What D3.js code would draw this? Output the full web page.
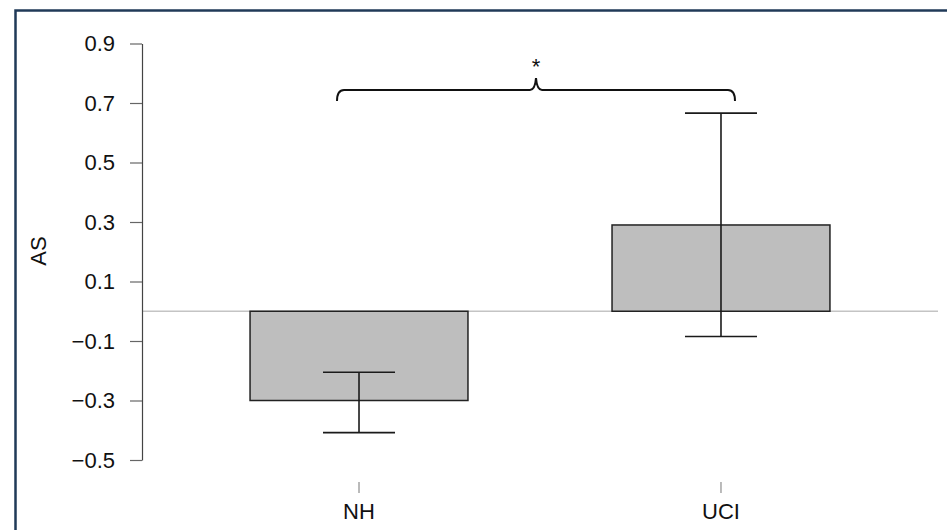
<!DOCTYPE html>
<html>
<head>
<meta charset="utf-8">
<script src="https://cdn.jsdelivr.net/npm/d3@7"></script>
<style>
  body { margin: 0; background: #fff; overflow: hidden; }
  svg { display: block; font-family: "Liberation Sans", Arial, sans-serif; }
</style>
</head>
<body>
<script>
// chart values
var groups = ["NH", "UCI"];
var means = [-0.30, 0.29];
var errLow = [-0.408, -0.085];
var errHigh = [-0.205, 0.666];
var yTicks = [-0.5, -0.3, -0.1, 0.1, 0.3, 0.5, 0.7, 0.9];
var sigLabel = "*";

var width = 947,
    height = 530;

var svg = d3.select("body")
    .append("svg")
    .attr("width", width)
    .attr("height", height);

// frame round the figure: only the left and top edges show
svg.append("path")
    .attr("d", "M15.5," + height + "V10.5H" + width)
    .attr("fill", "none")
    .attr("stroke", "#203a58")
    .attr("stroke-width", 2.5);

var y = d3.scaleLinear()
    .domain([-0.5, 0.9])
    .range([460, 43.5]);

var x = d3.scaleBand()
    .domain(groups)
    .range([142, 938])
    .paddingInner(0.398)
    .paddingOuter(0.2985);

// zero line
svg.append("line")
    .attr("x1", 142)
    .attr("x2", 938)
    .attr("y1", y(0))
    .attr("y2", y(0))
    .attr("stroke", "#c4c4c4")
    .attr("stroke-width", 1.5);

// bars
svg.selectAll(".bar")
    .data(groups)
    .enter()
    .append("rect")
    .attr("class", "bar")
    .attr("x", function(d){ return x(d); })
    .attr("width", x.bandwidth())
    .attr("y", function(d, i){ return y(Math.max(0, means[i])); })
    .attr("height", function(d, i){ return Math.abs(y(means[i]) - y(0)); })
    .attr("fill", "#bebebe")
    .attr("stroke", "#222")
    .attr("stroke-width", 1.5);

// error bars
var capHalf = 36;
var err = svg.selectAll(".err")
    .data(groups)
    .enter()
    .append("g")
    .attr("class", "err")
    .attr("stroke", "#1a1a1a")
    .attr("stroke-width", 1.6);

err.append("line")
    .attr("x1", function(d){ return x(d) + x.bandwidth() / 2; })
    .attr("x2", function(d){ return x(d) + x.bandwidth() / 2; })
    .attr("y1", function(d, i){ return y(errLow[i]); })
    .attr("y2", function(d, i){ return y(errHigh[i]); });

err.append("line")
    .attr("x1", function(d){ return x(d) + x.bandwidth() / 2 - capHalf; })
    .attr("x2", function(d){ return x(d) + x.bandwidth() / 2 + capHalf; })
    .attr("y1", function(d, i){ return y(errHigh[i]); })
    .attr("y2", function(d, i){ return y(errHigh[i]); });

err.append("line")
    .attr("x1", function(d){ return x(d) + x.bandwidth() / 2 - capHalf; })
    .attr("x2", function(d){ return x(d) + x.bandwidth() / 2 + capHalf; })
    .attr("y1", function(d, i){ return y(errLow[i]); })
    .attr("y2", function(d, i){ return y(errLow[i]); });

// y axis
var yAxis = svg.append("g")
    .attr("transform", "translate(142,0)")
    .call(d3.axisLeft(y)
        .tickValues(yTicks)
        .tickFormat(d3.format(".1f"))
        .tickSize(12)
        .tickSizeOuter(0)
        .tickPadding(15));
yAxis.select(".domain").attr("stroke", "#444").attr("stroke-width", 1.2);
yAxis.selectAll(".tick line").attr("stroke", "#666").attr("stroke-width", 1.2);
yAxis.selectAll(".tick text")
    .attr("fill", "#111")
    .style("font-size", "22px")
    .style("font-family", "'Liberation Sans', Arial, sans-serif");

// x axis (ticks + labels only)
var xAxis = svg.append("g")
    .attr("transform", "translate(0,482)")
    .call(d3.axisBottom(x)
        .tickSize(11)
        .tickPadding(10));
xAxis.select(".domain").remove();
xAxis.selectAll(".tick line").attr("stroke", "#777").attr("stroke-width", 1);
xAxis.selectAll(".tick text")
    .attr("fill", "#111")
    .style("font-size", "22px")
    .style("font-family", "'Liberation Sans', Arial, sans-serif");

// y label
svg.append("text")
    .attr("transform", "translate(46,251) rotate(-90)")
    .attr("text-anchor", "middle")
    .style("font-size", "22px")
    .attr("fill", "#111")
    .text("AS");

// significance brace between the two groups
var bx0 = x(groups[0]) + x.bandwidth() / 2 - 22,
    bx1 = x(groups[1]) + x.bandwidth() / 2 + 14,
    bm = (bx0 + bx1) / 2,
    by = 90;

var brace = d3.path();
brace.moveTo(bx0, by + 11);
brace.quadraticCurveTo(bx0, by, bx0 + 7, by);
brace.lineTo(bm - 6, by);
brace.quadraticCurveTo(bm - 1, by, bm, by - 12);
brace.quadraticCurveTo(bm + 1, by, bm + 6, by);
brace.lineTo(bx1 - 7, by);
brace.quadraticCurveTo(bx1, by, bx1, by + 11);

svg.append("path")
    .attr("d", brace.toString())
    .attr("fill", "none")
    .attr("stroke", "#111")
    .attr("stroke-width", 2);

svg.append("text")
    .attr("x", bm)
    .attr("y", 74)
    .attr("text-anchor", "middle")
    .style("font-size", "22px")
    .attr("fill", "#111")
    .text(sigLabel);
</script>
</body>
</html>
